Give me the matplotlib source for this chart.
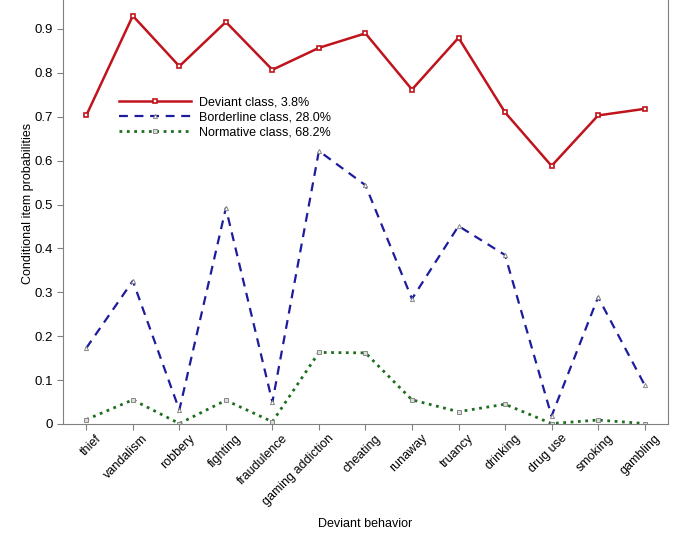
import numpy as np
import matplotlib.pyplot as plt
import matplotlib.transforms as mtransforms

plt.rcParams['font.family'] = ['Liberation Sans', 'DejaVu Sans']

behaviors = ['thief', 'vandalism', 'robbery', 'fighting', 'fraudulence', 'gaming addiction',
             'cheating', 'runaway', 'truancy', 'drinking', 'drug use', 'smoking', 'gambling']
deviant = [0.703, 0.930, 0.815, 0.916, 0.807, 0.857, 0.890, 0.762, 0.880, 0.710, 0.588, 0.703, 0.718]
borderline = [0.173, 0.326, 0.032, 0.492, 0.050, 0.622, 0.544, 0.285, 0.451, 0.385, 0.018, 0.289, 0.089]
normative = [0.010, 0.055, 0.001, 0.054, 0.005, 0.163, 0.162, 0.055, 0.028, 0.045, 0.001, 0.009, 0.001]

x = np.arange(len(behaviors))

fig = plt.figure(figsize=(6.85, 5.41), dpi=100)
ax = fig.add_axes([0.092, 0.2163, 0.883, 0.7837])

ax.plot(x, deviant, '-', color='#c0141c', lw=1.8, marker='s', ms=3.5, mfc='white', mec='#c0141c',
        mew=1.2, label='Deviant class, 3.8%')
ax.plot(x, borderline, '--', color='#1c1c9c', lw=1.6, marker='^', ms=3, mfc='white', mec='#888888',
        mew=0.7, label='Borderline class, 28.0%', dashes=(4, 3))
ax.plot(x, normative, ':', color='#1e6e1e', lw=2, marker='s', ms=3, mfc='#dddddd', mec='#888888',
        mew=0.7, label='Normative class, 68.2%')

ax.set_xlim(-0.5, 12.5)
ax.set_ylim(0, 0.966)
ax.set_yticks([0, 0.1, 0.2, 0.3, 0.4, 0.5, 0.6, 0.7, 0.8, 0.9])
ax.set_yticklabels(['0', '0.1', '0.2', '0.3', '0.4', '0.5', '0.6', '0.7', '0.8', '0.9'])
ax.set_xticks(x)
ax.set_xticklabels(behaviors, rotation=45, ha='right', rotation_mode='anchor')

for s in ['left', 'right', 'bottom']:
    ax.spines[s].set_color('#808080')
ax.spines['top'].set_visible(False)
ax.tick_params(colors='#808080', labelcolor='black', labelsize=9.5, length=4)
ax.tick_params(axis='x', labelsize=9)

# nudge rotated labels to the right like the original (after tick_params)
offset = mtransforms.ScaledTranslation(9 / 100, 2 / 100, fig.dpi_scale_trans)
for lab in ax.get_xticklabels():
    lab.set_transform(lab.get_transform() + offset)

ax.set_xlabel('Deviant behavior', fontsize=9)
ax.xaxis.set_label_coords(0.5, -0.222)
ax.set_ylabel('Conditional item probabilities', fontsize=9)
ax.yaxis.set_label_coords(-0.048, 0.519)

ax.legend(loc='upper left', bbox_to_anchor=(0.078, 0.793), frameon=False, fontsize=9,
          handlelength=5.8, handletextpad=0.6, labelspacing=0.25, borderpad=0.2)

plt.savefig('out.png', dpi=100)
